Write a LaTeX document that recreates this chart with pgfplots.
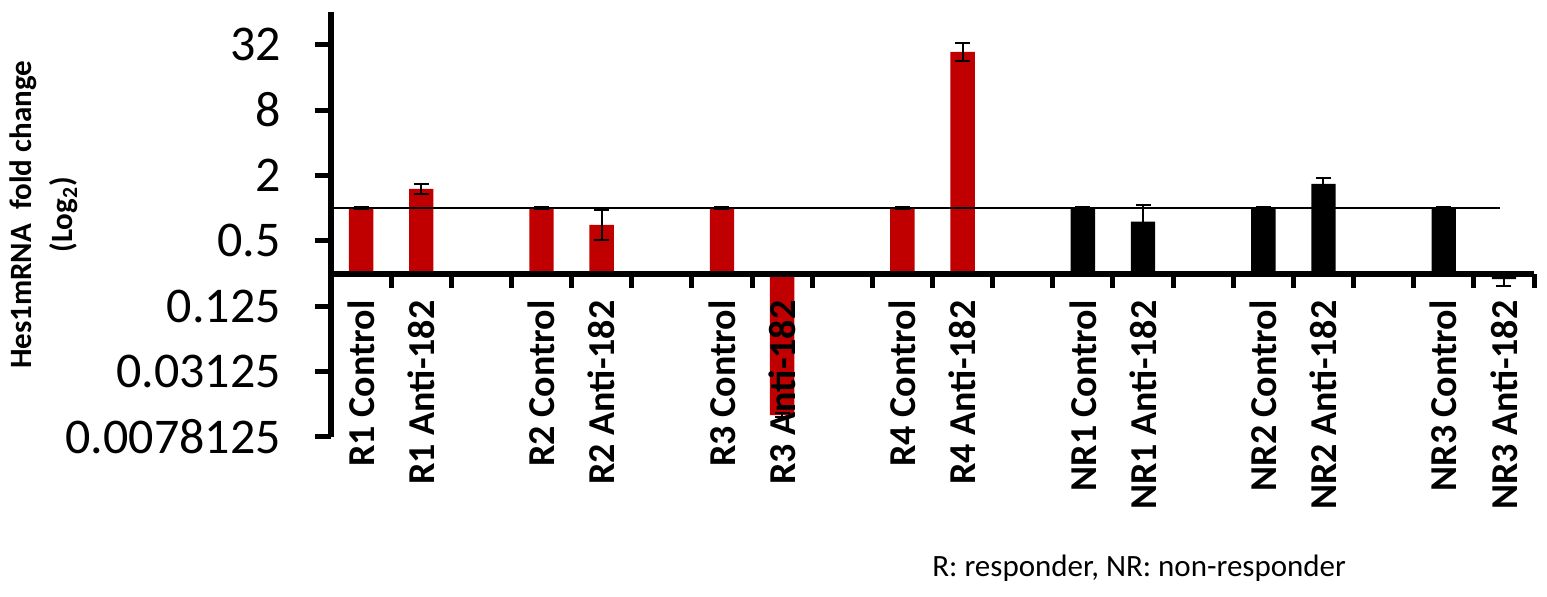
\documentclass[border=0pt]{standalone}
\usepackage{pgfplots}
\pgfplotsset{compat=1.18}
\usepackage{pgfplotstable}
\usepackage{fontspec}
\setmainfont{Carlito}
\definecolor{barred}{RGB}{192,0,0}

% y = log2(fold change) + 2  (the category axis crosses at fold change 0.25)
\pgfplotstableread{
x y e
0 2 0.03
1 2.59 0.145
3 2 0.03
4 1.49 0.46
6 2 0.03
7 -4.33 0.05
9 2 0.03
10 6.78 0.28
}\responders
\pgfplotstableread{
x y e
12 2 0.03
13 1.585 0.52
15 2 0.03
16 2.74 0.18
18 2 0.03
19 -0.17 0.22
}\nonresponders

\begin{document}
\begin{tikzpicture}
\useasboundingbox (-165.5pt,-80pt) rectangle (608pt,218.5pt);
\begin{axis}[
  scale only axis, width=601.5pt, height=212.5pt,
  at={(0pt,0pt)}, anchor=south west,
  xmin=-0.5, xmax=19.5, ymin=-5, ymax=8,
  axis x line*=middle, axis y line*=left,
  axis line style={line width=3pt, black},
  axis on top,
  ybar, bar width=0.405,
  ytick={-5,-3,-1,1,3,5,7},
  yticklabels={0.0078125,0.03125,0.125,0.5,2,8,32},
  ytick align=outside, major tick length=8pt,
  every major y tick/.append style={line width=2.5pt, black},
  yticklabel style={font=\fontsize{25}{30}\selectfont, anchor=east, xshift=-13.5pt},
  xtick={0,1,3,4,6,7,9,10,12,13,15,16,18,19},
  xticklabels={R1 Control, R1 Anti-182, R2 Control, R2 Anti-182, R3 Control, R3 Anti-182, R4 Control, R4 Anti-182, NR1 Control, NR1 Anti-182, NR2 Control, NR2 Anti-182, NR3 Control, NR3 Anti-182},
  minor xtick={0.5,1.5,...,19.5},
  xtick align=outside, minor tick length=7pt,
  every major x tick/.append style={draw=none},
  every minor x tick/.append style={line width=2.5pt, black},
  xticklabel style={font=\bfseries\fontsize{19}{22}\selectfont, yshift=-2pt, rotate=90, anchor=east},
]
\addplot[fill=barred, draw=none, bar shift=0pt,
  error bars/.cd, y dir=both, y explicit,
  error bar style={line width=1pt, black},
  error mark options={rotate=90, mark size=3.75pt, line width=1pt, black}]
  table[x=x, y=y, y error=e] {\responders};
\addplot[fill=black, draw=none, bar shift=0pt,
  error bars/.cd, y dir=both, y explicit,
  error bar style={line width=1pt, black},
  error mark options={rotate=90, mark size=3.75pt, line width=1pt, black}]
  table[x=x, y=y, y error=e] {\nonresponders};
\addplot[sharp plot, black, line width=1pt, mark=none] coordinates {(-0.5,2) (18.93,2)};
\end{axis}
\node[rotate=90, align=center, font=\bfseries\fontsize{15.5}{20.5}\selectfont] at (-143.5pt,111pt) {Hes1mRNA\ \ fold change\\(Log\textsubscript{2})};
\node[anchor=base west, inner sep=0pt, font=\fontsize{15.5}{18}\selectfont] at (300.5pt,-70pt) {R: responder, NR: non-responder};
\end{tikzpicture}
\end{document}
